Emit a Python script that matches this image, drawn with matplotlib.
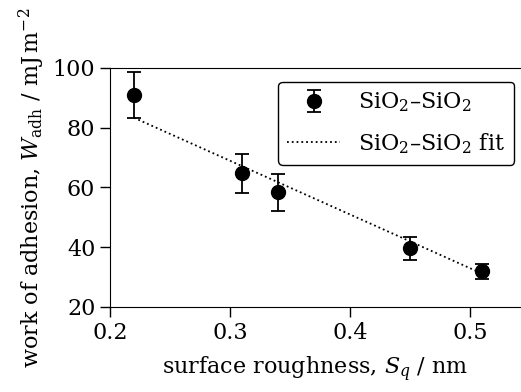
import matplotlib
matplotlib.use("Agg")
import matplotlib.pyplot as plt

plt.rcParams['font.family'] = 'DejaVu Serif'
plt.rcParams['mathtext.fontset'] = 'dejavuserif'
plt.rcParams['font.size'] = 16

# data
roughness = [0.22, 0.31, 0.34, 0.45, 0.51]
w_adh = [91.0, 64.7, 58.3, 39.6, 32.0]
w_err = [7.7, 6.6, 6.1, 3.8, 2.5]

fit_x = [0.22, 0.51]
fit_y = [83.3, 31.2]

fig = plt.figure(figsize=(5.21, 3.92), dpi=100)
ax = fig.add_axes([0.211, 0.217, 0.789, 0.61])

eb = ax.errorbar(roughness, w_adh, yerr=w_err, fmt='o', color='k', ms=10,
                 capsize=5, elinewidth=1.3, capthick=1.3, label=r'SiO$_2$–SiO$_2$')
fl, = ax.plot(fit_x, fit_y, 'k:', lw=1.3, label=r'SiO$_2$–SiO$_2$ fit')

ax.set_xlim(0.2, 0.5427)
ax.set_ylim(20, 100)
ax.set_xticks([0.2, 0.3, 0.4, 0.5])
ax.set_yticks([20, 40, 60, 80, 100])
ax.spines['right'].set_visible(False)
ax.tick_params(direction='out', length=7, width=1, labelsize=16)

ax.set_xlabel(r'surface roughness, $S_q$ / nm', labelpad=8)
ax.set_ylabel(r'work of adhesion, $W_\mathrm{adh}$ / mJ$\,$m$^{-2}$')

leg = ax.legend([eb, fl], [eb.get_label(), fl.get_label()],
                loc='upper right', bbox_to_anchor=(0.983, 0.941), borderaxespad=0,
                fancybox=True, framealpha=1, edgecolor='k', fontsize=16,
                handlelength=2.4, labelspacing=0.75)
leg.get_frame().set_linewidth(1)

fig.savefig('out.png', dpi=100)
